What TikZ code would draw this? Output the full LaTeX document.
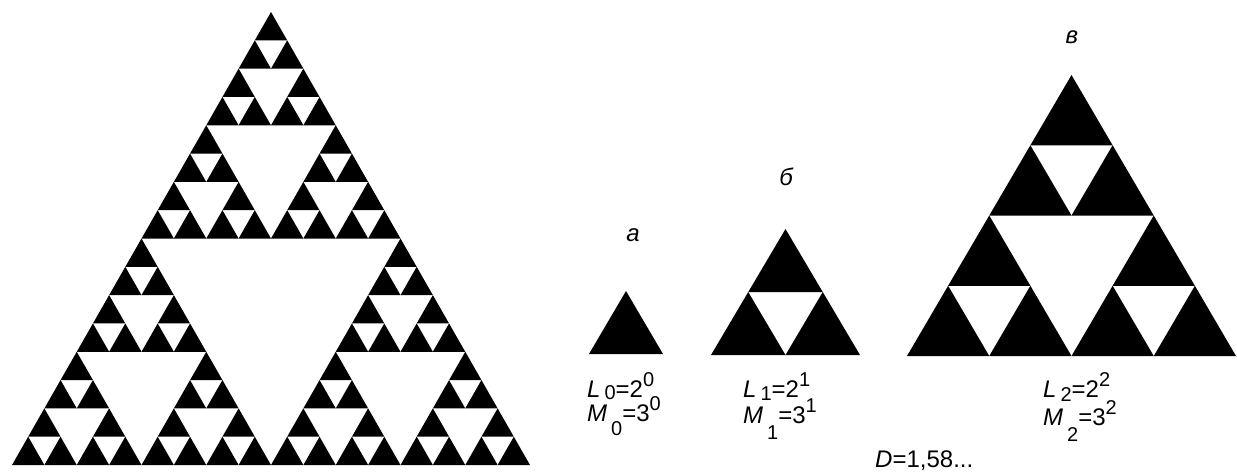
\documentclass[tikz,border=0pt]{standalone}
\usepackage{fontspec}
\setmainfont{Liberation Sans}
\newcommand\sierp[5]{%
  \ifnum#1=0\relax
    \fill (#2,#3) -- ++(#4,0) -- ++({-#4/2},{-#5}) -- cycle;
  \else
    \begingroup
      \pgfmathsetmacro\sierW{#4/2}%
      \pgfmathsetmacro\sierH{#5/2}%
      \pgfmathsetmacro\sierXm{#2+#4/2}%
      \pgfmathsetmacro\sierXq{#2+#4/4}%
      \pgfmathsetmacro\sierYu{#3-#5/2}%
      \pgfmathtruncatemacro\sierL{#1-1}%
      \edef\sierNext{%
        \noexpand\sierp{\sierL}{#2}{#3}{\sierW}{\sierH}%
        \noexpand\sierp{\sierL}{\sierXm}{#3}{\sierW}{\sierH}%
        \noexpand\sierp{\sierL}{\sierXq}{\sierYu}{\sierW}{\sierH}}%
      \sierNext
    \endgroup
  \fi}
\newcommand\smallfig[1]{{\fontsize{20}{20}\selectfont #1}}
% #1 letter, #2 subscript, #3 lowering, #4 base, #5 exponent
\newcommand\eqline[5]{\textit{#1}\kern4pt\raisebox{-#3}{\smallfig{#2}}=#4\raisebox{11pt}{\smallfig{#5}}}
\tikzset{
  lbl/.style={inner sep=0pt, anchor=base, font=\fontsize{24}{26}\selectfont\itshape},
  eqn/.style={inner sep=0pt, anchor=base west, font=\fontsize{24}{26}\selectfont},
}
\begin{document}
\begin{tikzpicture}[x=1pt,y=-1pt]
\useasboundingbox (0,0) rectangle (1237,475);
% big Sierpinski triangle (level 4)
\sierp{4}{12}{465}{518}{453}
% а, б, в
\sierp{0}{589}{354}{74}{63}
\sierp{1}{711}{355}{149}{126}
\sierp{2}{907}{356}{329}{281}
% labels
\node[lbl] (la) at (633,241) {а};
\node[lbl] (lb) at (786,185) {б};
\node[lbl] (lv) at (1072,43) {в};
\node[eqn] (l0) at (587,397) {\eqline{L}{0}{2pt}{2}{0}};
\node[eqn] (m0) at (587,421) {\eqline{M}{0}{14pt}{3}{0}};
\node[eqn] (l1) at (743,397) {\eqline{L}{1}{3pt}{2}{1}};
\node[eqn] (m1) at (743,423) {\eqline{M}{1}{16pt}{3}{1}};
\node[eqn] (l2) at (1043,397) {\eqline{L}{2}{4pt}{2}{2}};
\node[eqn] (m2) at (1043,425) {\eqline{M}{2}{16pt}{3}{2}};
\node[eqn] (dd) at (875,467) {\textit{D}=1,58...};
\end{tikzpicture}
\end{document}
